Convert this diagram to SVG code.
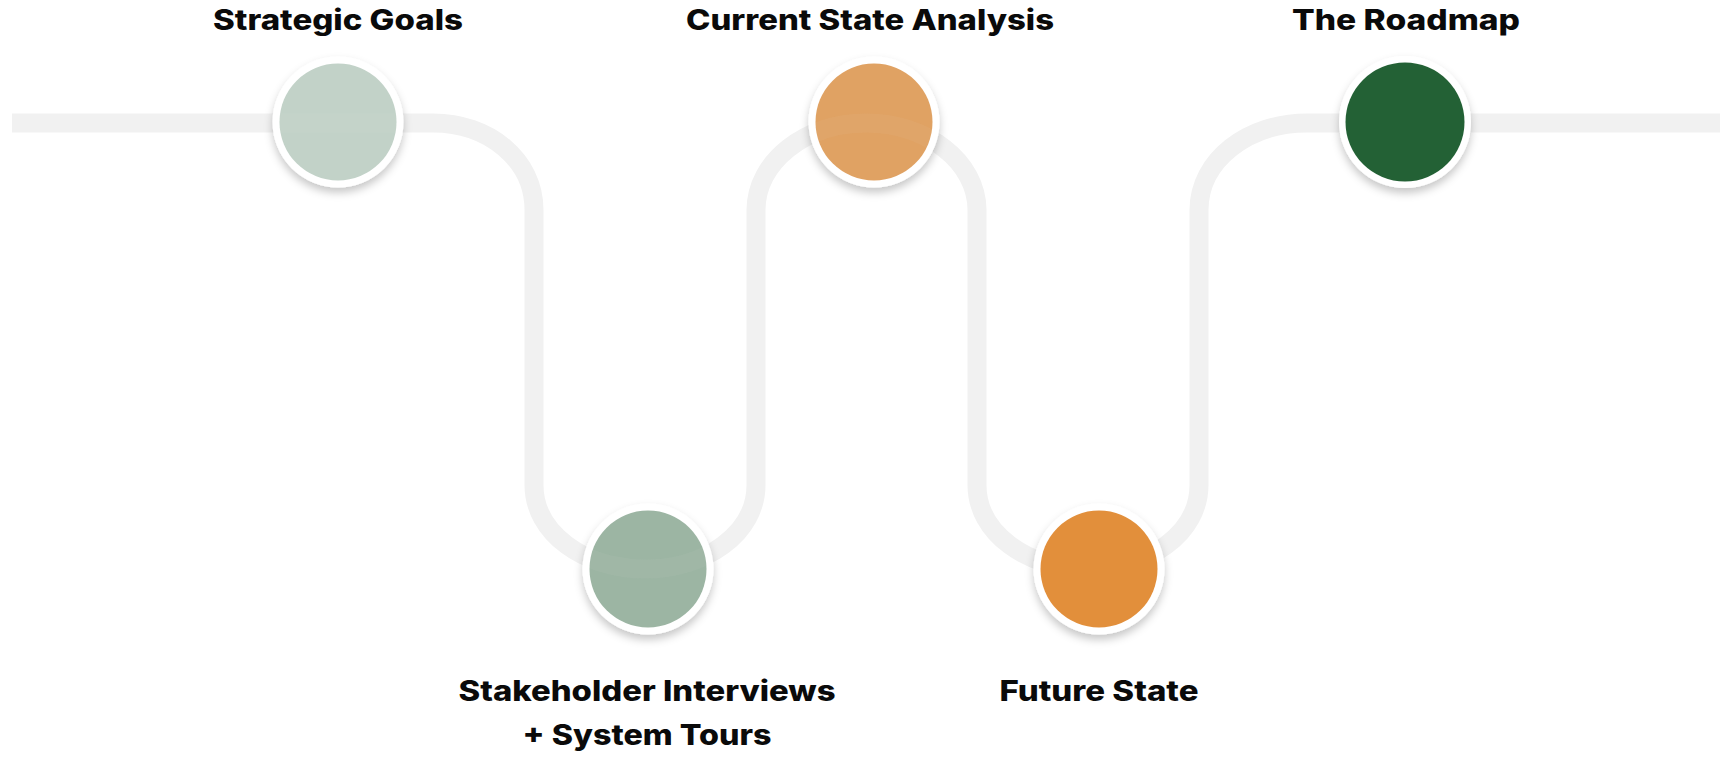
<svg xmlns="http://www.w3.org/2000/svg" width="1727" height="757" viewBox="0 0 1727 757">
  <defs>
    <style>
      .track { fill: none; stroke: #f1f1f1; stroke-width: 19; }
      .tint { fill: none; stroke: #000; stroke-opacity: 0.05; stroke-width: 19; }
      .ring { fill: #fff; filter: url(#shadow); }
      .label { font-family: Inter, "Open Sans", "Liberation Sans", sans-serif; font-weight: 800; font-size: 28px; fill: #0a0a0a; text-anchor: middle; }
    </style>
    <filter id="shadow" x="-30%" y="-30%" width="160%" height="170%">
      <feDropShadow dx="0" dy="5" stdDeviation="4" flood-color="#000" flood-opacity="0.22"/>
    </filter>
    <clipPath id="innerClip">
      <circle cx="338" cy="122" r="58.5"/>
      <circle cx="648" cy="569" r="58.5"/>
      <circle cx="874" cy="122" r="58.5"/>
    </clipPath>
  </defs>

  <rect width="1727" height="757" fill="#fff"/>

  <!-- winding path connecting the milestones -->
  <g id="connectors">
    <path id="track" class="track" d="M 12 123 H 433 C 489 123 534 160 534 210 V 485 C 534 533 584 569 645 569 C 706 569 756 533 756 485 V 210 C 756 162 805 123 866 123 C 927 123 977 162 977 210 V 485 C 977 533 1027 569 1088 569 C 1149 569 1199 533 1199 485 V 210 C 1199 160 1248 123 1307 123 H 1720"/>
  </g>

  <g id="node-strategic-goals">
    <circle class="ring" cx="338" cy="122" r="65.5"/>
    <circle cx="338" cy="122" r="58.5" fill="#c2d2c8"/>
    <text class="label" x="338" y="30" textLength="250" lengthAdjust="spacingAndGlyphs">Strategic Goals</text>
  </g>

  <g id="node-stakeholder-interviews">
    <circle class="ring" cx="648" cy="569" r="65.5"/>
    <circle cx="648" cy="569" r="58.5" fill="#9cb5a3"/>
    <text class="label" x="647" y="701" textLength="377" lengthAdjust="spacingAndGlyphs">Stakeholder Interviews</text>
    <text class="label" x="647" y="745" textLength="249" lengthAdjust="spacingAndGlyphs">+ System Tours</text>
  </g>

  <g id="node-current-state">
    <circle class="ring" cx="874" cy="122" r="65.5"/>
    <circle cx="874" cy="122" r="58.5" fill="#e0a263"/>
    <text class="label" x="870" y="30" textLength="368" lengthAdjust="spacingAndGlyphs">Current State Analysis</text>
  </g>

  <g id="node-future-state">
    <circle class="ring" cx="1099" cy="569" r="65.5"/>
    <circle cx="1099" cy="569" r="58.5" fill="#e28f3b"/>
    <text class="label" x="1099" y="701" textLength="199" lengthAdjust="spacingAndGlyphs">Future State</text>
  </g>

  <g id="node-roadmap">
    <circle class="ring" cx="1405" cy="122" r="66"/>
    <circle cx="1405" cy="122" r="59.5" fill="#236135"/>
    <text class="label" x="1406" y="30" textLength="228" lengthAdjust="spacingAndGlyphs">The Roadmap</text>
  </g>

  <!-- faint trace of the path seen through the lighter discs -->
  <use href="#track" class="tint" clip-path="url(#innerClip)"/>
</svg>
